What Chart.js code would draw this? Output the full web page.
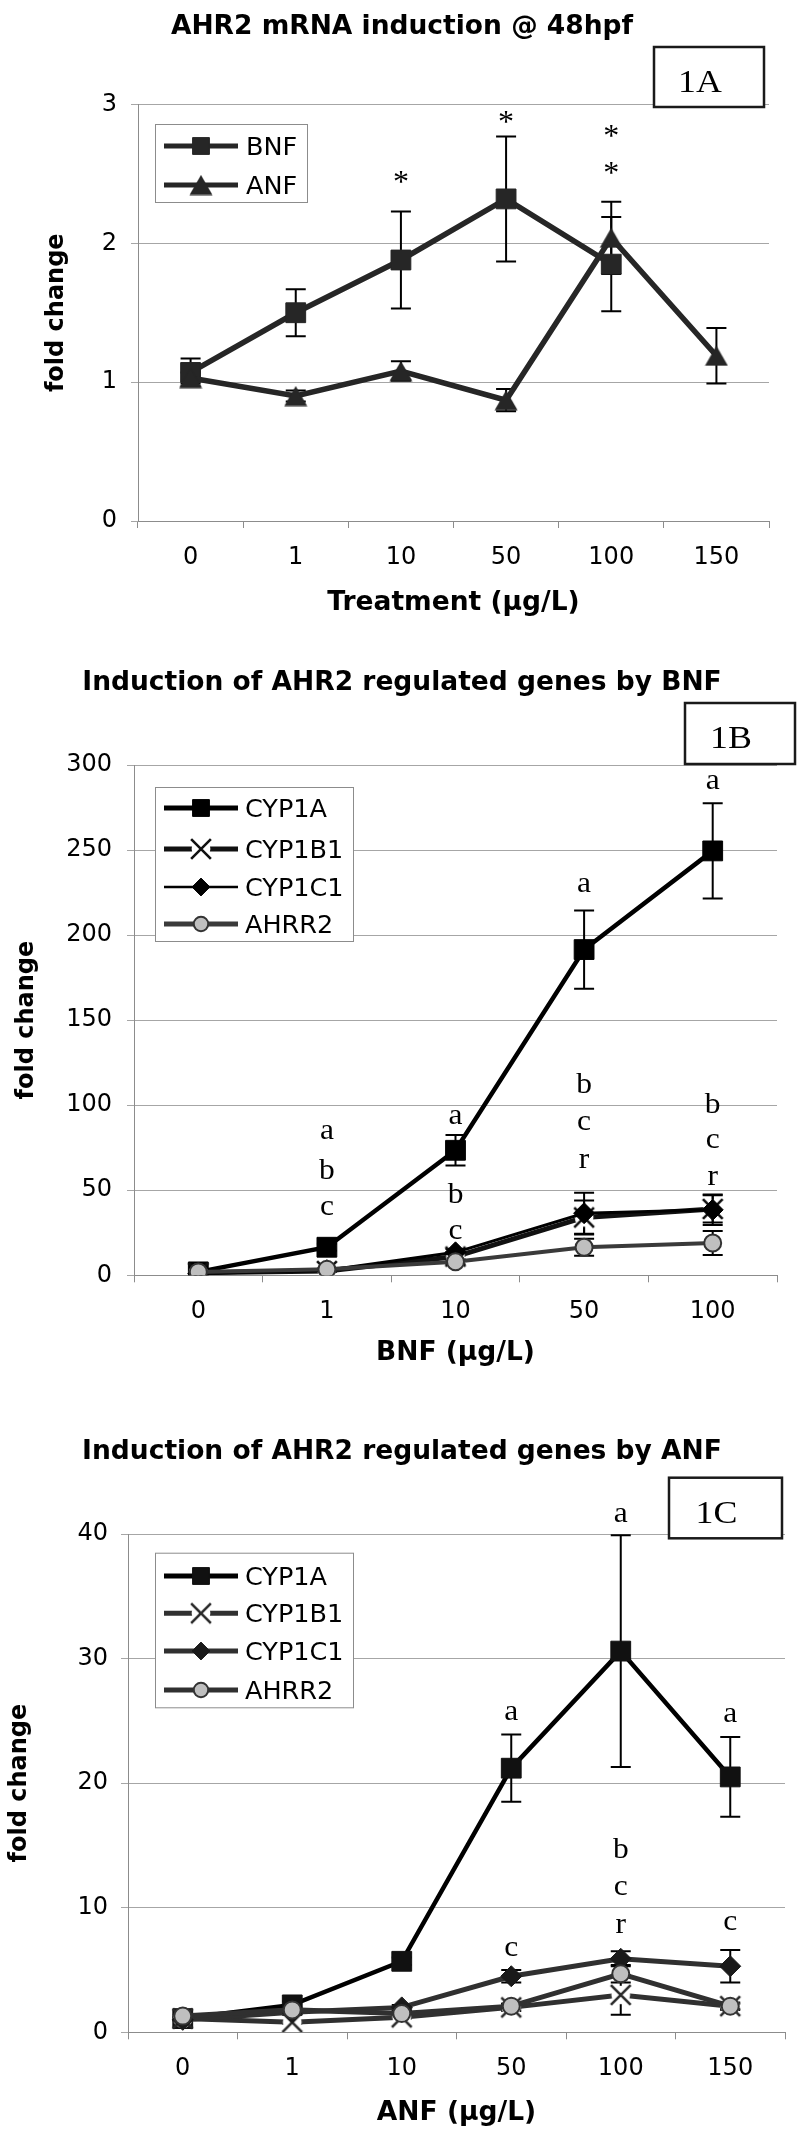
<!DOCTYPE html>
<html><head><meta charset="utf-8">
<script src="https://cdn.jsdelivr.net/npm/chart.js@4/dist/chart.umd.min.js"></script>
<style>
html,body{margin:0;padding:0;background:#fff;width:800px;height:2138px;overflow:hidden}
.wrap{position:absolute;left:0;width:800px}
canvas{display:block}
</style></head><body>
<div class="wrap" style="top:0px"><canvas id="cA" width="800" height="640"></canvas></div>
<div class="wrap" style="top:640px"><canvas id="cB" width="800" height="740"></canvas></div>
<div class="wrap" style="top:1380px"><canvas id="cC" width="800" height="758"></canvas></div>
<script>
// ---------------- DATA ----------------
// Panel 1A
const titleA = 'AHR2 mRNA induction @ 48hpf';
const xTitleA = 'Treatment (µg/L)';
const doseA = ['0', '1', '10', '50', '100', '150'];
const bnfA = [1.07, 1.50, 1.88, 2.32, 1.85, null];
const bnfAErr = [0.10, 0.17, 0.35, 0.45, 0.34, null];
const anfA = [1.03, 0.90, 1.08, 0.87, 2.04, 1.19];
const anfAErr = [0.04, 0.04, 0.07, 0.08, 0.26, 0.20];
const starCatA = ['10', '50', '100', '100'];
const starValA = [2.48, 2.91, 2.81, 2.54];
const starTxtA = ['*', '*', '*', '*'];

// Panel 1B
const titleB = 'Induction of AHR2 regulated genes by BNF';
const xTitleB = 'BNF (µg/L)';
const doseB = ['0', '1', '10', '50', '100'];
const cyp1aB = [2, 16.5, 73.5, 191.5, 249.5];
const cyp1aBErr = [0.5, 2, 9, 23, 28];
const cyp1b1B = [1.5, 2.5, 11, 34, 39];
const cyp1b1BErr = [0.3, 0.5, 2, 10, 8];
const cyp1c1B = [1, 3, 13.5, 36.5, 38.5];
const cyp1c1BErr = [0.2, 0.5, 2, 12, 9];
const ahrr2B = [2, 3.5, 8, 16.5, 19];
const ahrr2BErr = [0.3, 0.5, 1.5, 5, 7];
const letterCatB = ['1', '1', '1', '10', '10', '10', '50', '50', '50', '50', '100', '100', '100', '100'];
const letterValB = [84, 62.5, 39.5, 93, 48.5, 25.5, 229.5, 113, 89.5, 67, 290, 101.5, 79, 57];
const letterTxtB = ['a', 'b', 'c', 'a', 'b', 'c', 'a', 'b', 'c', 'r', 'a', 'b', 'c', 'r'];

// Panel 1C
const titleC = 'Induction of AHR2 regulated genes by ANF';
const xTitleC = 'ANF (µg/L)';
const doseC = ['0', '1', '10', '50', '100', '150'];
const cyp1aC = [1.1, 2.2, 5.7, 21.2, 30.6, 20.5];
const cyp1aCErr = [0.1, 0.3, 0.3, 2.7, 9.3, 3.2];
const cyp1b1C = [1.1, 0.8, 1.2, 2.0, 3.0, 2.1];
const cyp1b1CErr = [0.1, 0.1, 0.1, 0.3, 1.6, 0.3];
const cyp1c1C = [1.0, 1.6, 2.0, 4.5, 5.9, 5.3];
const cyp1c1CErr = [0.1, 0.2, 0.2, 0.5, 0.6, 1.3];
const ahrr2C = [1.3, 1.8, 1.5, 2.1, 4.7, 2.1];
const ahrr2CErr = [0.1, 0.2, 0.2, 0.2, 0.7, 0.2];
const letterCatC = ['50', '50', '100', '100', '100', '100', '150', '150'];
const letterValC = [25.6, 6.7, 41.5, 14.8, 11.6, 8.5, 25.5, 8.75];
const letterTxtC = ['a', 'c', 'a', 'b', 'c', 'r', 'a', 'c'];

const yTitle = 'fold change';

// ---------------- STYLE HELPERS ----------------
const SANS = '"DejaVu Sans", Verdana, sans-serif';
const SERIF = '"Liberation Serif", "Times New Roman", serif';

function xMarkerCanvas(size, color) {
  const c = document.createElement('canvas');
  c.width = size; c.height = size;
  const g = c.getContext('2d');
  g.fillStyle = '#fff';
  g.beginPath(); g.arc(size / 2, size / 2, size * 0.36, 0, Math.PI * 2); g.fill();
  g.strokeStyle = color; g.lineWidth = 2.6;
  const a = size * 0.12, b = size * 0.88;
  g.beginPath(); g.moveTo(a, a); g.lineTo(b, b); g.moveTo(a, b); g.lineTo(b, a); g.stroke();
  return c;
}
// triangle centred on its bounding box (as in the original chart)
function triMarkerCanvas(w, h, color) {
  const c = document.createElement('canvas');
  c.width = w; c.height = h;
  const g = c.getContext('2d');
  g.fillStyle = color;
  g.beginPath(); g.moveTo(w / 2, 0.5); g.lineTo(w - 0.5, h - 0.5); g.lineTo(0.5, h - 0.5); g.closePath(); g.fill();
  return c;
}

function drawMarker(ctx, style, x, y, r, fill, stroke, lw) {
  ctx.save();
  if (style instanceof HTMLCanvasElement) {
    ctx.drawImage(style, x - style.width / 2, y - style.height / 2);
    ctx.restore(); return;
  }
  ctx.fillStyle = fill; ctx.strokeStyle = stroke; ctx.lineWidth = lw;
  ctx.beginPath();
  if (style === 'rect') {
    const s = r * Math.SQRT1_2; ctx.rect(x - s, y - s, 2 * s, 2 * s);
  } else if (style === 'rectRot') {
    ctx.moveTo(x, y - r); ctx.lineTo(x + r, y); ctx.lineTo(x, y + r); ctx.lineTo(x - r, y); ctx.closePath();
  } else {
    ctx.arc(x, y, r, 0, Math.PI * 2);
  }
  ctx.fill(); if (lw > 0) ctx.stroke();
  ctx.restore();
}

// text centered on glyph box (mode 'glyph') or cap height (mode 'cap')
function drawText(ctx, txt, x, y, font, align, mode, sx) {
  ctx.save();
  ctx.font = font; ctx.fillStyle = '#000'; ctx.textAlign = align || 'center'; ctx.textBaseline = 'alphabetic';
  let yy;
  if (mode === 'glyph') {
    const m = ctx.measureText(txt);
    yy = y + (m.actualBoundingBoxAscent - m.actualBoundingBoxDescent) / 2;
  } else {
    const m = ctx.measureText('H');
    yy = y + m.actualBoundingBoxAscent / 2;
  }
  ctx.translate(x, yy); ctx.scale(sx || 1, 1);
  ctx.fillText(txt, 0, 0);
  ctx.restore();
}

function buildChart(o) {
  const canvas = document.getElementById(o.id);
  const W = canvas.width, H = canvas.height;
  const decor = {
    id: 'decor',
    beforeDatasetsDraw(chart) {
      const ctx = chart.ctx, ys = chart.scales.y;
      ctx.save(); ctx.strokeStyle = '#000'; ctx.lineWidth = 2;
      o.errors.forEach((arr, di) => {
        const meta = chart.getDatasetMeta(di);
        const vals = chart.data.datasets[di].data;
        arr.forEach((e, j) => {
          if (e == null || vals[j] == null) return;
          const x = meta.data[j].x;
          const y1 = ys.getPixelForValue(vals[j] + e), y2 = ys.getPixelForValue(vals[j] - e);
          ctx.beginPath();
          ctx.moveTo(x, y1); ctx.lineTo(x, y2);
          ctx.moveTo(x - 10, y1); ctx.lineTo(x + 10, y1);
          ctx.moveTo(x - 10, y2); ctx.lineTo(x + 10, y2);
          ctx.stroke();
        });
      });
      ctx.restore();
    },
    afterDraw(chart) {
      const ctx = chart.ctx, xs = chart.scales.x, ys = chart.scales.y;
      // title
      drawText(ctx, o.title, 402, o.titleY, 'bold 26.5px ' + SANS, 'center', 'cap');
      // annotations (letters / stars)
      o.notes.cats.forEach((c, i) => {
        const x = xs.getPixelForValue(o.labels.indexOf(c));
        const y = ys.getPixelForValue(o.notes.vals[i]);
        drawText(ctx, o.notes.txt[i], x, y, o.notes.font, 'center', 'glyph', o.notes.sx);
      });
      // legend
      const L = o.legend;
      ctx.save();
      ctx.fillStyle = '#fff'; ctx.fillRect(L.x, L.y, L.w, L.h);
      ctx.strokeStyle = '#8c8c8c'; ctx.lineWidth = 1; ctx.strokeRect(L.x + 0.5, L.y + 0.5, L.w, L.h);
      ctx.restore();
      chart.data.datasets.forEach((ds, i) => {
        const y = L.rows[i];
        ctx.save();
        ctx.strokeStyle = ds.borderColor; ctx.lineWidth = L.lw[i]; ctx.lineCap = 'butt';
        ctx.beginPath(); ctx.moveTo(L.lx1, y); ctx.lineTo(L.lx2, y); ctx.stroke();
        ctx.restore();
        drawMarker(ctx, ds.pointStyle, (L.lx1 + L.lx2) / 2, y, ds.pointRadius * 0.85,
          ds.pointBackgroundColor, ds.pointBorderColor, ds.pointBorderWidth);
        drawText(ctx, ds.label, L.tx, y, '25.5px ' + SANS, 'left', 'cap');
      });
      // boxed panel label
      const B = o.box;
      ctx.save();
      ctx.fillStyle = '#fff'; ctx.fillRect(B.x, B.y, B.w, B.h);
      ctx.strokeStyle = '#1a1a1a'; ctx.lineWidth = 2.5; ctx.strokeRect(B.x, B.y, B.w, B.h);
      ctx.restore();
      drawText(ctx, B.text, B.x + B.w / 2 - 9, B.y + B.h / 2 + 4, '32px ' + SERIF, 'center', 'cap', 1.12);
    }
  };
  return new Chart(canvas, {
    type: 'line',
    data: { labels: o.labels, datasets: o.datasets },
    options: {
      responsive: false, animation: false, devicePixelRatio: 1,
      layout: { padding: { left: 0, right: W - o.area.right, top: o.area.top, bottom: 0 } },
      plugins: { legend: { display: false }, title: { display: false }, tooltip: { enabled: false } },
      elements: { line: { tension: 0 } },
      scales: {
        x: {
          offset: true,
          grid: { offset: true, drawOnChartArea: false, drawTicks: true, tickLength: 7, color: '#8c8c8c' },
          border: { color: '#8c8c8c', width: 1 },
          ticks: { color: '#000', font: { family: SANS, size: 24 }, padding: 15, maxRotation: 0, autoSkip: false },
          title: { display: true, text: o.xTitle, color: '#000', font: { family: SANS, size: 26.5, weight: 'bold' },
                   padding: { top: 0, bottom: o.xTitlePad } },
          afterFit(s) { s.height = H - o.area.bottom; }
        },
        y: {
          min: 0, max: o.yMax,
          grid: { color: '#a6a6a6', lineWidth: 1, drawTicks: true, tickLength: 7 },
          border: { color: '#8c8c8c', width: 1 },
          ticks: { stepSize: o.yStep, color: '#000', font: { family: SANS, size: 24 }, padding: o.yTickPad },
          title: { display: true, text: yTitle, color: '#000', font: { family: SANS, size: 24, weight: 'bold' },
                   padding: { top: o.yTitlePad, bottom: 0 } },
          afterFit(s) { s.width = o.area.left; }
        }
      }
    },
    plugins: [decor]
  });
}

function series(label, data, color, lw, style, r, fill, stroke, pbw, order) {
  return { label, data, borderColor: color, backgroundColor: fill, borderWidth: lw,
    pointStyle: style, pointRadius: r, pointHoverRadius: r, pointBackgroundColor: fill,
    pointBorderColor: stroke, pointBorderWidth: pbw, order, spanGaps: false, tension: 0 };
}

const DK = '#262626';
const xDark = xMarkerCanvas(26, '#111');
const xGrey = xMarkerCanvas(26, '#2a2a2a');
const triDark = triMarkerCanvas(24, 21, DK);
const triLegend = triMarkerCanvas(21, 18, DK);

// ---------------- 1A ----------------
buildChart({
  id: 'cA', labels: doseA, title: titleA, titleY: 24, xTitle: xTitleA,
  area: { left: 138, right: 769, top: 104.5, bottom: 521 },
  yMax: 3, yStep: 1, yTickPad: 14, yTitlePad: 42, xTitlePad: 21.1,
  datasets: [
    series('BNF', bnfA, DK, 5.5, 'rect', 14, DK, DK, 1, 1),
    series('ANF', anfA, DK, 5.5, triDark, 13.5, DK, DK, 1, 0)
  ],
  errors: [bnfAErr, anfAErr],
  notes: { cats: starCatA, vals: starValA, txt: starTxtA, font: '32px ' + SERIF, sx: 1 },
  legend: { x: 155, y: 124, w: 152, h: 78, rows: [146, 185], lx1: 164, lx2: 238, tx: 246, lw: [5, 5],
            markers: [null, triLegend] },
  box: { x: 654, y: 47, w: 110, h: 60, text: '1A' }
});

// ---------------- 1B ----------------
buildChart({
  id: 'cB', labels: doseB, title: titleB, titleY: 39.5, xTitle: xTitleB,
  area: { left: 134, right: 777, top: 125, bottom: 635.3 },
  yMax: 300, yStep: 50, yTickPad: 15, yTitlePad: 12.6, xTitlePad: 11.1,
  datasets: [
    series('CYP1A', cyp1aB, '#000', 4.5, 'rect', 14, '#000', '#000', 1, 3),
    series('CYP1B1', cyp1b1B, '#111', 5, xDark, 14, '#fff', '#111', 0, 2),
    series('CYP1C1', cyp1c1B, '#000', 3, 'rectRot', 10.5, '#000', '#000', 1, 1),
    series('AHRR2', ahrr2B, '#3a3a3a', 4, 'circle', 8.5, '#bfbfbf', '#333', 2, 0)
  ],
  errors: [cyp1aBErr, cyp1b1BErr, cyp1c1BErr, ahrr2BErr],
  notes: { cats: letterCatB, vals: letterValB, txt: letterTxtB, font: '30px ' + SERIF, sx: 1.05 },
  legend: { x: 155, y: 147, w: 198, h: 154, rows: [168, 209, 247, 284], lx1: 164, lx2: 238, tx: 245, lw: [5, 5, 2.5, 5] },
  box: { x: 685, y: 63, w: 110, h: 61, text: '1B' }
});

// ---------------- 1C ----------------
buildChart({
  id: 'cC', labels: doseC, title: titleC, titleY: 68.5, xTitle: xTitleC,
  area: { left: 128, right: 787, top: 154, bottom: 652.3 },
  yMax: 40, yStep: 10, yTickPad: 13, yTitlePad: 5.6, xTitlePad: 8.8,
  datasets: [
    series('CYP1A', cyp1aC, '#000', 4.5, 'rect', 14, '#111', '#111', 1, 3),
    series('CYP1B1', cyp1b1C, '#303030', 5, xGrey, 14, '#fff', '#2a2a2a', 0, 2),
    series('CYP1C1', cyp1c1C, '#303030', 5, 'rectRot', 10.5, '#1a1a1a', '#1a1a1a', 1, 1),
    series('AHRR2', ahrr2C, '#303030', 5, 'circle', 8.5, '#bfbfbf', '#333', 2, 0)
  ],
  errors: [cyp1aCErr, cyp1b1CErr, cyp1c1CErr, ahrr2CErr],
  notes: { cats: letterCatC, vals: letterValC, txt: letterTxtC, font: '30px ' + SERIF, sx: 1.05 },
  legend: { x: 155, y: 172.7, w: 198, h: 154.6, rows: [196, 233.3, 271, 310], lx1: 164, lx2: 238, tx: 245, lw: [5, 5, 5, 5] },
  box: { x: 669, y: 97.7, w: 113, h: 60.6, text: '1C' }
});
</script>
</body></html>
